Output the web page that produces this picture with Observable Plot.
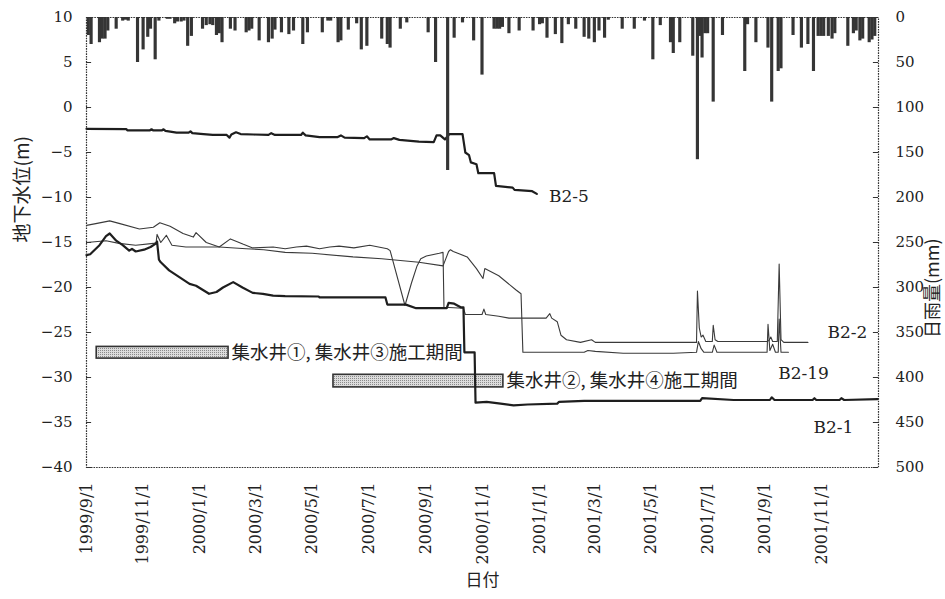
<!DOCTYPE html>
<html><head><meta charset="utf-8">
<script src="https://cdn.jsdelivr.net/npm/d3@7"></script>
<script src="https://cdn.jsdelivr.net/npm/@observablehq/plot@0.6"></script>
<style>
html,body{margin:0;padding:0;background:#fff;}
#chart{width:945px;height:599px;}
</style></head><body><div id="chart"></div>
<script>
// ---- Daily rainfall (mm) ----
const rainDates = ["1999-09-03","1999-09-06","1999-09-15","1999-09-18","1999-09-21","1999-09-24","1999-10-03","1999-10-10","1999-10-13","1999-10-16","1999-10-26","1999-11-01","1999-11-06","1999-11-09","1999-11-14","1999-11-18","1999-11-27","1999-11-30","1999-12-05","1999-12-08","1999-12-12","1999-12-15","1999-12-19","1999-12-23","2000-01-04","2000-01-08","2000-01-12","2000-01-15","2000-01-19","2000-01-22","2000-01-25","2000-02-03","2000-02-08","2000-02-20","2000-02-23","2000-02-26","2000-03-05","2000-03-15","2000-03-19","2000-03-22","2000-03-29","2000-04-06","2000-04-11","2000-04-21","2000-04-26","2000-05-12","2000-05-18","2000-05-21","2000-05-29","2000-06-01","2000-06-09","2000-06-18","2000-06-23","2000-06-29","2000-07-15","2000-07-21","2000-07-24","2000-08-04","2000-08-11","2000-09-03","2000-09-11","2000-09-24","2000-10-01","2000-10-10","2000-10-22","2000-10-31","2000-11-13","2000-11-16","2000-11-19","2000-11-22","2000-11-29","2000-12-10","2000-12-25","2001-01-01","2001-01-04","2001-01-09","2001-01-18","2001-01-25","2001-02-01","2001-02-09","2001-02-18","2001-02-23","2001-03-01","2001-03-06","2001-03-12","2001-03-16","2001-03-31","2001-04-13","2001-04-24","2001-05-03","2001-05-11","2001-05-22","2001-05-25","2001-06-01","2001-06-15","2001-06-20","2001-06-23","2001-06-25","2001-06-28","2001-07-01","2001-07-07","2001-07-17","2001-08-10","2001-08-13","2001-08-22","2001-09-04","2001-09-08","2001-09-15","2001-09-18","2001-10-01","2001-10-10","2001-10-17","2001-10-23","2001-10-28","2001-10-31","2001-11-03","2001-11-08","2001-11-12","2001-11-15","2001-11-29","2001-12-05","2001-12-08","2001-12-12","2001-12-15","2001-12-22","2001-12-25","2001-12-28"];
const rainMm = [20,30,28,24,24,15,13,4,3,4,50,36,22,13,47,4,2,2,7,5,5,4,32,21,13,9,8,9,20,18,28,13,15,17,15,13,26,28,24,14,17,19,15,30,17,17,4,4,28,26,14,7,36,32,24,30,34,13,6,17,50,170,23,6,26,64,13,13,13,11,18,15,15,8,7,23,19,29,8,13,22,24,28,15,23,3,13,13,4,47,9,28,40,28,43,158,21,45,18,18,94,20,60,8,28,34,94,60,57,20,34,30,60,21,21,21,21,24,18,32,18,15,26,24,28,25,21];

// ---- Groundwater level (m) ----
const b25Dates = ["1999-09-01","1999-10-14","1999-10-15","1999-11-08","1999-11-10","1999-11-12","1999-11-21","1999-11-23","1999-11-25","1999-12-07","1999-12-20","1999-12-22","1999-12-24","2000-01-05","2000-01-15","2000-01-30","2000-02-02","2000-02-04","2000-02-09","2000-02-14","2000-02-28","2000-03-15","2000-03-18","2000-03-22","2000-04-19","2000-04-21","2000-04-24","2000-05-09","2000-05-28","2000-06-01","2000-06-05","2000-06-26","2000-06-29","2000-07-02","2000-07-25","2000-07-28","2000-08-03","2000-08-24","2000-09-09","2000-09-12","2000-09-16","2000-09-21","2000-09-26","2000-10-10","2000-10-13","2000-10-17","2000-10-19","2000-10-25","2000-10-27","2000-11-13","2000-11-15","2000-12-03","2000-12-05","2000-12-24","2000-12-29"];
const b25Levels = [-2.37,-2.4,-2.55,-2.55,-2.42,-2.55,-2.55,-2.42,-2.6,-2.8,-2.8,-2.65,-2.85,-2.95,-3.05,-3.05,-3.35,-3.0,-2.75,-2.95,-3.0,-3.05,-2.85,-3.05,-3.05,-2.8,-3.1,-3.3,-3.3,-3.1,-3.35,-3.4,-3.2,-3.55,-3.55,-3.4,-3.6,-3.8,-3.85,-3.1,-3.1,-3.55,-2.95,-2.95,-5.0,-5.3,-6.1,-6.3,-7.3,-7.3,-8.7,-8.9,-9.15,-9.3,-9.6];

const b21Dates = ["1999-09-01","1999-09-05","1999-09-08","1999-09-15","1999-09-22","1999-09-26","1999-10-03","1999-10-10","1999-10-17","1999-10-20","1999-10-24","1999-11-02","1999-11-09","1999-11-15","1999-11-16","1999-11-18","1999-11-20","1999-11-29","1999-12-10","1999-12-21","1999-12-28","2000-01-11","2000-01-19","2000-01-26","2000-02-06","2000-02-16","2000-02-27","2000-03-09","2000-03-20","2000-04-02","2000-05-08","2000-05-09","2000-07-19","2000-07-21","2000-08-10","2000-08-21","2000-09-23","2000-09-25","2000-10-01","2000-10-08","2000-10-11","2000-10-12","2000-10-23","2000-10-24","2000-11-05","2000-11-20","2000-12-04","2000-12-19","2001-01-20","2001-01-22","2001-02-18","2001-06-23","2001-06-25","2001-07-29","2001-09-06","2001-09-08","2001-09-11","2001-10-22","2001-10-24","2001-10-26","2001-11-20","2001-11-22","2001-11-25","2001-12-31"];
const b21Levels = [-16.4,-16.3,-16.0,-15.3,-14.3,-14.0,-14.8,-15.3,-15.9,-15.7,-16.0,-15.8,-15.5,-15.1,-14.9,-16.9,-17.2,-18.1,-18.85,-19.6,-19.8,-20.7,-20.5,-20.0,-19.4,-20.0,-20.6,-20.7,-20.9,-20.95,-21.0,-21.1,-21.1,-21.9,-21.9,-22.3,-22.3,-21.7,-21.8,-22.2,-22.2,-27.2,-27.2,-32.8,-32.7,-32.9,-33.1,-33.0,-32.9,-32.7,-32.6,-32.6,-32.3,-32.5,-32.5,-32.2,-32.5,-32.5,-32.3,-32.5,-32.5,-32.3,-32.5,-32.4];

const b22Dates = ["1999-09-01","1999-09-11","1999-09-26","1999-10-07","1999-10-28","1999-11-12","1999-11-19","1999-11-30","1999-12-14","1999-12-25","1999-12-28","2000-01-08","2000-01-22","2000-02-03","2000-02-17","2000-02-27","2000-03-20","2000-04-02","2000-04-14","2000-04-25","2000-05-09","2000-05-20","2000-05-30","2000-06-15","2000-07-02","2000-07-21","2000-07-24","2000-08-09","2000-08-16","2000-08-22","2000-08-26","2000-09-01","2000-09-15","2000-09-19","2000-09-20","2000-10-11","2000-10-13","2000-10-31","2000-11-02","2000-11-04","2000-11-18","2000-11-29","2001-01-08","2001-01-12","2001-01-14","2001-01-20","2001-01-24","2001-01-30","2001-02-14","2001-02-26","2001-03-02","2001-06-19","2001-06-20","2001-06-22","2001-06-24","2001-06-26","2001-06-29","2001-07-06","2001-07-07","2001-07-09","2001-07-12","2001-09-03","2001-09-05","2001-09-07","2001-09-09","2001-09-14","2001-09-16","2001-09-18","2001-09-21","2001-10-17"];
const b22Levels = [-13.1,-12.9,-12.6,-12.9,-13.5,-13.3,-12.8,-13.2,-14.0,-14.4,-13.9,-15.0,-15.5,-14.6,-15.2,-15.6,-15.5,-15.7,-15.5,-15.4,-15.7,-15.5,-15.4,-15.6,-15.3,-15.7,-15.9,-22.0,-19.5,-17.6,-16.8,-16.5,-16.2,-16.1,-22.2,-22.3,-23.0,-23.0,-22.4,-23.0,-23.2,-23.4,-23.4,-22.9,-23.4,-23.8,-25.3,-25.8,-26.1,-25.8,-26.1,-26.1,-20.4,-24.5,-25.5,-25.3,-26.0,-26.0,-24.2,-25.8,-26.0,-26.0,-25.9,-25.5,-26.0,-26.0,-17.4,-25.8,-26.1,-26.1];

const b219Dates = ["1999-09-01","1999-09-22","1999-10-06","1999-10-24","1999-11-12","1999-11-15","1999-11-16","1999-11-20","1999-11-26","1999-12-02","1999-12-17","2000-01-22","2000-02-20","2000-03-10","2000-04-02","2000-05-01","2000-06-14","2000-07-15","2000-08-24","2000-09-19","2000-09-25","2000-09-27","2000-09-30","2000-10-15","2000-10-25","2000-11-01","2000-11-03","2000-11-18","2000-12-07","2000-12-12","2000-12-14","2001-02-18","2001-02-22","2001-03-02","2001-04-01","2001-05-25","2001-06-19","2001-06-21","2001-06-24","2001-06-27","2001-07-06","2001-07-08","2001-07-11","2001-09-03","2001-09-04","2001-09-06","2001-09-09","2001-09-12","2001-09-15","2001-09-16","2001-09-18","2001-09-26"];
const b219Levels = [-15.0,-14.8,-15.1,-15.3,-15.1,-15.0,-14.1,-15.0,-14.2,-15.3,-15.5,-15.5,-15.7,-15.8,-16.1,-16.2,-16.6,-16.8,-17.2,-17.6,-16.0,-15.8,-16.0,-16.6,-17.9,-19.0,-17.9,-18.7,-20.3,-20.7,-27.2,-27.2,-27.0,-27.1,-27.3,-27.3,-27.2,-26.0,-26.8,-27.2,-27.2,-26.4,-27.2,-27.2,-24.1,-27.0,-26.3,-27.2,-27.2,-23.5,-27.2,-27.2];

// ---- Construction periods ----
const workLabels = ["集水井①, 集水井③施工期間", "集水井②, 集水井④施工期間"];
const workStart = ["1999-09-12", "2000-05-24"];
const workEnd = ["2000-02-01", "2000-11-23"];
const workTop = [-26.6, -29.7];
const workBottom = [-27.9, -31.1];

// ---- Series labels ----
const seriesNames = ["B2-5", "B2-2", "B2-19", "B2-1"];
const seriesLabelDates = ["2001-01-11", "2001-11-07", "2001-09-15", "2001-10-23"];
const seriesLabelLevels = [-9.9, -25.0, -29.6, -35.55];

// ---- Axes ----
const levelTicks = [-40, -35, -30, -25, -20, -15, -10, -5, 0, 5, 10];
const rainTicks = [0, 50, 100, 150, 200, 250, 300, 350, 400, 450, 500];
const xTickDates = ["1999-09-01","1999-11-01","2000-01-01","2000-03-01","2000-05-01","2000-07-01","2000-09-01","2000-11-01","2001-01-01","2001-03-01","2001-05-01","2001-07-01","2001-09-01","2001-11-01"];
const xTickLabels = ["1999/9/1","1999/11/1","2000/1/1","2000/3/1","2000/5/1","2000/7/1","2000/9/1","2000/11/1","2001/1/1","2001/3/1","2001/5/1","2001/7/1","2001/9/1","2001/11/1"];

const P = s => new Date(s + "T00:00:00Z");
const DAY = 864e5;
const xStart = P("1999-09-01"), xEnd = P("2002-01-01");
const rainToLevel = mm => 10 - mm / 10;   // right axis: 0 mm at top (10 m), 500 mm at bottom (-40 m)
const series = (name, dates, levels) => dates.map((d, i) => ({name, date: P(d), level: levels[i]}));
const rain = rainDates.map((d, i) => ({date: P(d), mm: rainMm[i]}));
const thin = [...series("B2-2", b22Dates, b22Levels), ...series("B2-19", b219Dates, b219Levels)];
const thick = [...series("B2-5", b25Dates, b25Levels), ...series("B2-1", b21Dates, b21Levels)];
const works = workLabels.map((t, i) => ({text: t, x1: P(workStart[i]), x2: P(workEnd[i]), y1: workTop[i], y2: workBottom[i]}));
const labels = seriesNames.map((t, i) => ({text: t, date: P(seriesLabelDates[i]), level: seriesLabelLevels[i]}));
const xLabelMap = new Map(xTickDates.map((d, i) => [+P(d), xTickLabels[i]]));
const CJK = "'Noto Sans CJK JP', sans-serif";
const SERIF = "'DejaVu Serif', serif";

const chart = Plot.plot({
  width: 945, height: 599,
  marginLeft: 86, marginRight: 67, marginTop: 17, marginBottom: 132,
  style: {fontFamily: SERIF, fontSize: "15px", color: "#222", background: "#fff"},
  x: {type: "utc", domain: [xStart, xEnd], axis: null},
  y: {domain: [-40, 10], axis: null},
  marks: [
    Plot.rect(works, {x1: "x1", x2: "x2", y1: "y1", y2: "y2", fill: "url(#dots)", stroke: "#333", strokeWidth: 1.6}),
    Plot.text(works, {x: "x2", y: d => (d.y1 + d.y2) / 2, text: "text", textAnchor: "start", dx: 3, fontFamily: CJK, fontSize: 18.5, fill: "#222"}),
    Plot.line(thin, {x: "date", y: "level", z: "name", stroke: "#3a3a3a", strokeWidth: 1.1}),
    Plot.line(thick, {x: "date", y: "level", z: "name", stroke: "#1e1e1e", strokeWidth: 2.2}),
    Plot.rect(rain, {x1: d => new Date(+d.date - 1.2 * DAY), x2: d => new Date(+d.date + 2.2 * DAY), y1: 10, y2: d => rainToLevel(d.mm), fill: "#353535"}),
    Plot.text(labels, {x: "date", y: "level", text: "text", textAnchor: "start", fontFamily: SERIF, fontSize: 17, fill: "#222", ariaLabel: "series-labels"}),
    Plot.ruleY(levelTicks, {y: d => d, x1: () => xStart, x2: () => new Date(+xStart + 5.5 * DAY), stroke: "#333"}),
    Plot.ruleY(rainTicks.map(rainToLevel), {y: d => d, x1: () => new Date(+xEnd - 5.5 * DAY), x2: () => xEnd, stroke: "#333"}),
    Plot.axisY({anchor: "left", ticks: levelTicks, tickSize: 0, tickPadding: 14, label: null, fontSize: 15}),
    Plot.axisY({anchor: "right", ticks: rainTicks.map(rainToLevel), tickFormat: v => String(Math.round((10 - v) * 10)), tickSize: 0, tickPadding: 17, label: null, fontSize: 15}),
    Plot.axisX({ticks: xTickDates.map(P), tickFormat: d => xLabelMap.get(+d), tickRotate: -90, tickSize: 0, tickPadding: 15, label: null, fontSize: 16}),
    Plot.frame({stroke: "#333", strokeWidth: 1.2, strokeDasharray: "1.6,1"}),
    Plot.text(["地下水位(m)"], {frameAnchor: "left", dx: -64, rotate: -90, fontFamily: CJK, fontSize: 19, fill: "#222"}),
    Plot.text(["日雨量(mm)"], {frameAnchor: "right", dx: 55, dy: -4, rotate: -90, fontFamily: CJK, fontSize: 18, fill: "#222"}),
    Plot.text(["日付"], {frameAnchor: "bottom", dy: 118, fontFamily: CJK, fontSize: 17, fill: "#222"})
  ]
});

// dotted fill pattern for construction-period bars
const svg = d3.select(chart.tagName.toLowerCase() === "svg" ? chart : chart.querySelector("svg"));
const defs = svg.insert("defs", ":first-child");
const pat = defs.append("pattern").attr("id", "dots").attr("patternUnits", "userSpaceOnUse").attr("width", 2).attr("height", 2);
pat.append("rect").attr("width", 2).attr("height", 2).attr("fill", "#dcdcdc");
pat.append("rect").attr("width", 1).attr("height", 1).attr("fill", "#8a8a8a");
svg.selectAll('g[aria-label="series-labels"] text').style("letter-spacing", "2.5px");

document.getElementById("chart").appendChild(chart);
</script>
</body></html>
